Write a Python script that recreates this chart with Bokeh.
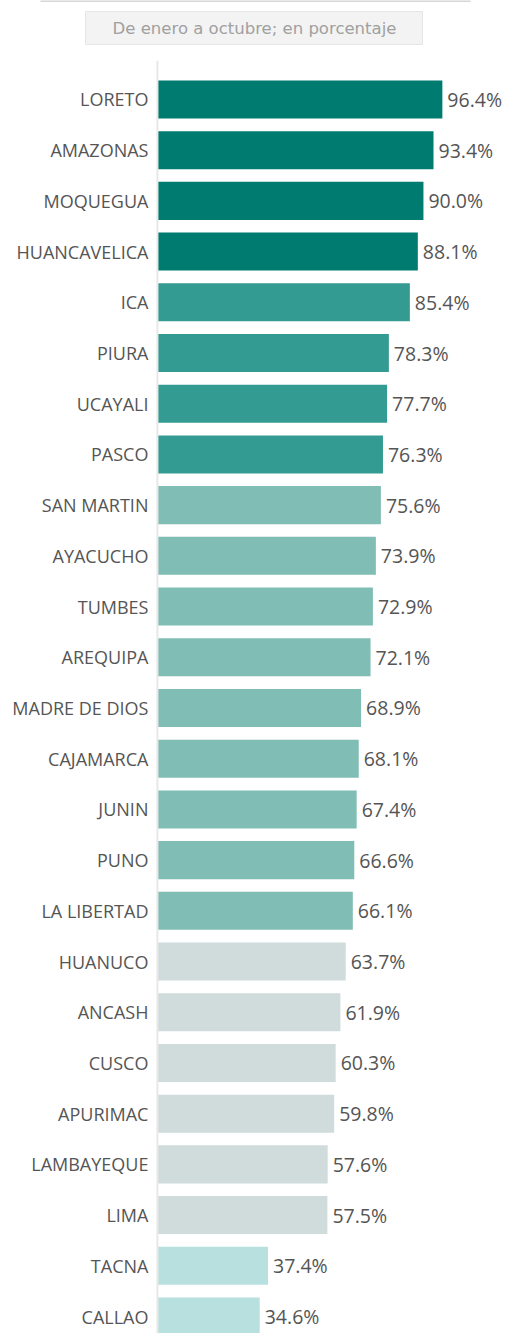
from bokeh.plotting import figure
from bokeh.layouts import column
from bokeh.models import Range1d, ColumnDataSource, Span
from bokeh.core.properties import value
from bokeh.embed import file_html
from bokeh.resources import INLINE

regions = ["LORETO", "AMAZONAS", "MOQUEGUA", "HUANCAVELICA", "ICA", "PIURA", "UCAYALI",
           "PASCO", "SAN MARTIN", "AYACUCHO", "TUMBES", "AREQUIPA", "MADRE DE DIOS",
           "CAJAMARCA", "JUNIN", "PUNO", "LA LIBERTAD", "HUANUCO", "ANCASH", "CUSCO",
           "APURIMAC", "LAMBAYEQUE", "LIMA", "TACNA", "CALLAO"]
values = [96.4, 93.4, 90.0, 88.1, 85.4, 78.3, 77.7, 76.3, 75.6, 73.9, 72.9, 72.1, 68.9,
          68.1, 67.4, 66.6, 66.1, 63.7, 61.9, 60.3, 59.8, 57.6, 57.5, 37.4, 34.6]
groups = [0, 0, 0, 0, 1, 1, 1, 1, 2, 2, 2, 2, 2, 2, 2, 2, 2, 3, 3, 3, 3, 3, 3, 4, 4]
palette = ["#007b70", "#339b92", "#7fbdb5", "#d0dcdb", "#b8e0df"]
subtitle = "De enero a octubre; en porcentaje"

n = len(regions)
ypos = [n - 1 - i for i in range(n)]
src = ColumnDataSource(dict(
    y=ypos, v=values, name=regions, zero=[0] * n,
    color=[palette[g] for g in groups],
    lbl=[f"{v:.1f}%" for v in values],
))

# header with subtitle box (screen-like coordinates)
h = figure(width=506, height=60, x_range=Range1d(0, 506), y_range=Range1d(60, 0),
           output_backend="svg", toolbar_location=None, min_border=0)
h.axis.visible = False
h.grid.visible = False
h.outline_line_color = None
h.segment(x0=[40], x1=[470], y0=[0.5], y1=[0.5], line_color="#d6d6d6", line_width=2)
h.quad(left=[85], right=[422], top=[11], bottom=[44], fill_color="#f3f3f3",
       line_color="#e6e6e6", line_width=1)
h.text(x=[254], y=[28], text=[subtitle], text_align="center", text_baseline="middle",
       text_color="#a0a0a0", text_font=value("DejaVu Sans"), text_font_size="16.5px")

# main chart; frame spans full width, x_range starts negative to leave room for names
p = figure(width=506, height=1273, x_range=Range1d(-53.1, 118.1), y_range=Range1d(-0.335, 24.768),
           output_backend="svg", toolbar_location=None, min_border=0)
p.hbar(y="y", left=0, right="v", height=0.75, fill_color="color", line_color=None, source=src)
p.text(x="v", y="y", text="lbl", x_offset=5, text_align="left", text_baseline="middle",
       text_color="#555555", text_font=value("Open Sans"), text_font_size="19.5px", source=src)
p.text(x="zero", y="y", text="name", x_offset=-9, text_align="right", text_baseline="middle",
       text_color="#555555", text_font=value("Open Sans"), text_font_size="18px", source=src)
p.add_layout(Span(location=0, dimension="height", line_color="#e8e8e8", line_width=2))

p.axis.visible = False
p.grid.visible = False
p.outline_line_color = None

layout = column(h, p, spacing=0)
open("out.html", "w").write(file_html(layout, INLINE))
